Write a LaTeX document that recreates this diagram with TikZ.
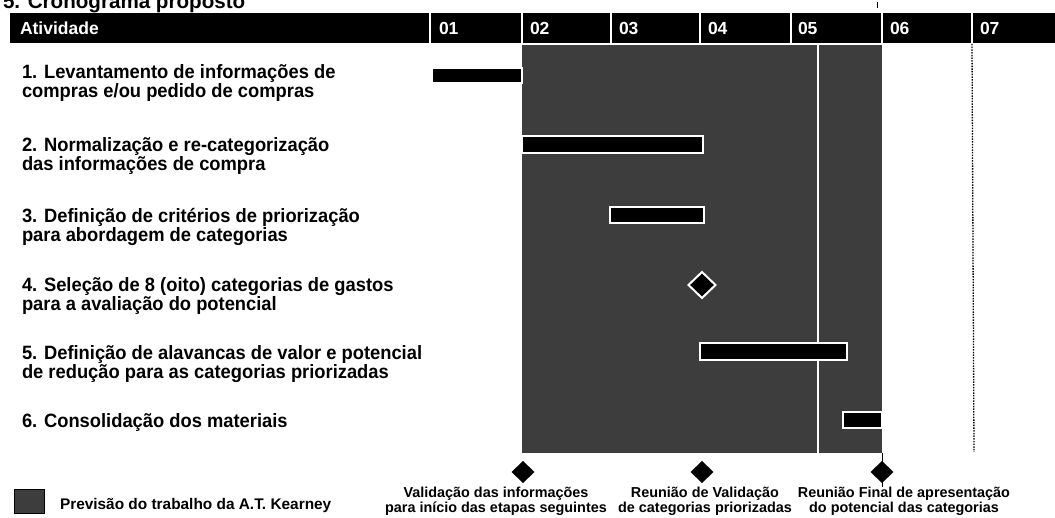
\documentclass[tikz,border=0pt]{standalone}
\usepackage{fontspec}
\setmainfont{Liberation Sans}
\newfontfamily\rowfont[FakeStretch=0.95]{Liberation Sans}
\usetikzlibrary{shapes.geometric}
\definecolor{dither}{gray}{0.24}
\begin{document}
\begin{tikzpicture}[x=1pt,y=-1pt,
  every node/.style={inner sep=0pt, outer sep=0pt},
  rowtxt/.style={anchor=base west, align=left, font=\rowfont\bfseries\fontsize{19.3}{18.5}\selectfont},
  hdtxt/.style={anchor=base west, text=white, font=\bfseries\fontsize{17.5}{17.5}\selectfont},
  sepline/.style={white, line width=1.3pt},
  bar/.style={fill=black, draw=white, line width=1.6pt, anchor=north west},
  mstone/.style={diamond, fill=black, minimum width=23pt, minimum height=22pt},
  mlab/.style={anchor=base, align=center, font=\bfseries\fontsize{14.4}{15}\selectfont},
]
\useasboundingbox (0,0) rectangle (1055,518);
\clip (0,0) rectangle (1055,518);
\fill[white] (0,0) rectangle (1055,518);

% title (cut off at the top in the reference)
\node[anchor=base west, font=\bfseries\fontsize{20.6}{20}\selectfont] (title) at (3,9) {5. Cronograma proposto};
\draw[line width=0.8pt] (877,2) -- (877,8);

% header bar
\node[fill=black, minimum width=1045pt, minimum height=30pt, anchor=north west] (hdr) at (10,13) {};
\foreach \x in {430,522,611,700,791,882,972} \draw[sepline] (\x,13) -- (\x,43);
\node[hdtxt] (hact) at (20,35) {Atividade};
\node[hdtxt] (h01) at (439,35) {01};
\node[hdtxt] (h02) at (530,35) {02};
\node[hdtxt] (h03) at (619,35) {03};
\node[hdtxt] (h04) at (708,35) {04};
\node[hdtxt] (h05) at (798,35) {05};
\node[hdtxt] (h06) at (890,35) {06};
\node[hdtxt] (h07) at (980,35) {07};

% shaded work area
\node[fill=dither, minimum width=360pt, minimum height=408pt, anchor=north west] (shd) at (522,45) {};
\draw[white, line width=1.5pt] (818,45) -- (818,453);
\draw[dash pattern=on 1.5pt off 1.2pt, line width=1.3pt] (972,44) -- (974,452);

% activity rows (anchor = baseline of the last line)
\node[rowtxt] (r1) at (22,97.5) {1. Levantamento de informações de\\compras e/ou pedido de compras};
\node[rowtxt] (r2) at (22,170.5) {2. Normalização e re-categorização\\das informações de compra};
\node[rowtxt] (r3) at (22,241.5) {3. Definição de critérios de priorização\\para abordagem de categorias};
\node[rowtxt] (r4) at (22,310.5) {4. Seleção de 8 (oito) categorias de gastos\\para a avaliação do potencial};
\node[rowtxt] (r5) at (22,378.5) {5. Definição de alavancas de valor e potencial\\de redução para as categorias priorizadas};
\node[rowtxt] (r6) at (22,428) {6. Consolidação dos materiais};

% bars
\node[bar, minimum width=90pt, minimum height=15pt] (b1) at (432,68) {};
\node[bar, minimum width=181pt, minimum height=17pt] (b2) at (522,136) {};
\node[bar, minimum width=94pt, minimum height=16pt] (b3) at (610,207) {};
\node[diamond, fill=black, draw=white, line width=2pt, minimum width=27pt, minimum height=26pt] (d4) at (702,285) {};
\node[bar, minimum width=147pt, minimum height=17pt] (b5) at (700,343) {};
\node[bar, minimum width=39pt, minimum height=16pt] (b6) at (843,412) {};

% milestones
\coordinate (m3top) at (882,453);
\coordinate (m3bot) at (882,487);
\draw[line width=0.8pt] (m3top) -- (m3bot);
\node[mstone] (m1) at (523,472) {};
\node[mstone] (m2) at (702,472) {};
\node[mstone] (m3) at (882,472) {};
\node[mlab] (l1) at (496,512) {Validação das informações\\para início das etapas seguintes};
\node[mlab] (l2) at (705,512) {Reunião de Validação\\de categorias priorizadas};
\node[mlab] (l3) at (904,512) {Reunião Final de apresentação\\do potencial das categorias};

% legend
\node[fill=dither, draw=black, line width=1pt, minimum width=30pt, minimum height=24pt, anchor=north west] (icon) at (14,489) {};
\node[anchor=base west, font=\bfseries\fontsize{15.4}{15}\selectfont] (leg) at (60,509) {Previsão do trabalho da A.T. Kearney};
\end{tikzpicture}
\end{document}
